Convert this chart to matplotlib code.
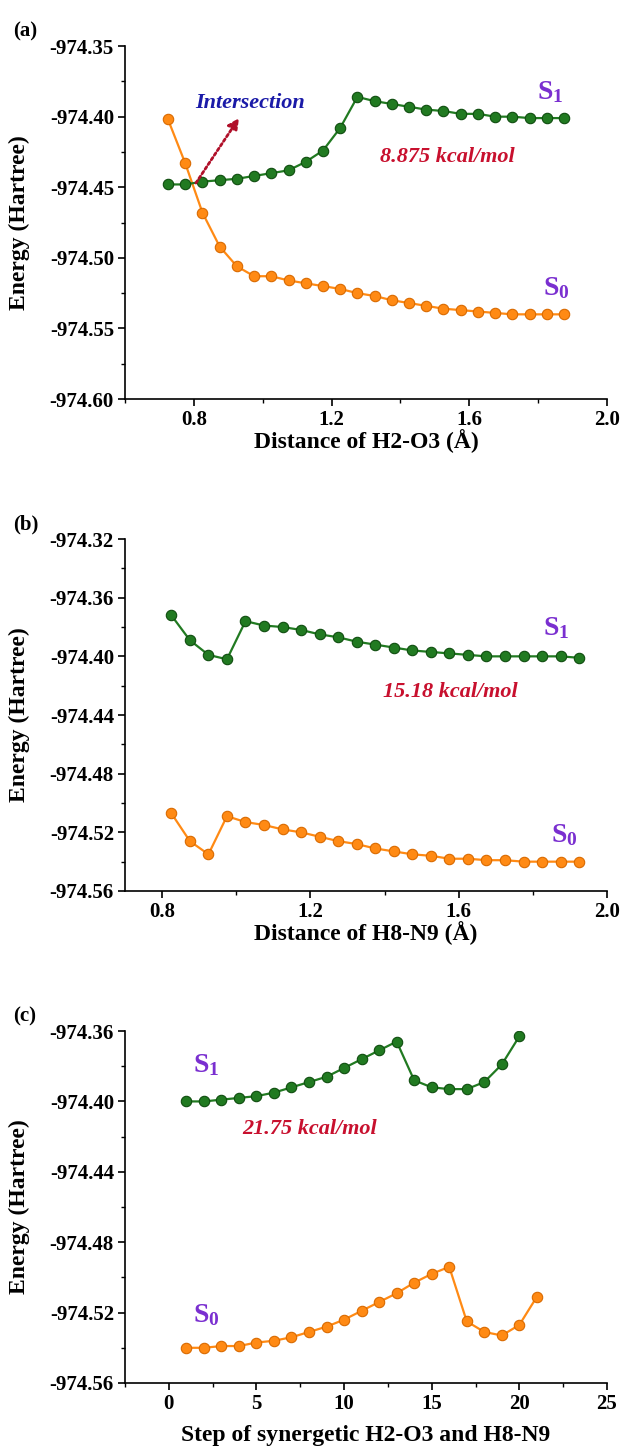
import matplotlib
matplotlib.use("Agg")
import matplotlib.pyplot as plt
from matplotlib.ticker import MultipleLocator

plt.rcParams['font.family'] = ['Liberation Serif', 'DejaVu Serif']
plt.rcParams['font.weight'] = 'bold'
plt.rcParams['axes.labelweight'] = 'bold'
plt.rcParams['mathtext.fontset'] = 'custom'
plt.rcParams['mathtext.rm'] = 'Liberation Serif:bold'
plt.rcParams['mathtext.bf'] = 'Liberation Serif:bold'

# (a) scan of H2-O3
a_dist = [0.725, 0.775, 0.825, 0.875, 0.925, 0.975, 1.025, 1.075, 1.125, 1.175, 1.225, 1.275,
          1.325, 1.375, 1.425, 1.475, 1.525, 1.575, 1.625, 1.675, 1.725, 1.775, 1.825, 1.875]
a_s0 = [-974.402, -974.433, -974.468, -974.492, -974.506, -974.513, -974.513, -974.516,
        -974.518, -974.520, -974.522, -974.525, -974.527, -974.530, -974.532, -974.534,
        -974.536, -974.537, -974.538, -974.539, -974.540, -974.540, -974.540, -974.540]
a_s1 = [-974.448, -974.448, -974.446, -974.445, -974.444, -974.442, -974.440, -974.438,
        -974.432, -974.424, -974.408, -974.386, -974.389, -974.391, -974.393, -974.395,
        -974.396, -974.398, -974.398, -974.400, -974.400, -974.401, -974.401, -974.401]

# (b) scan of H8-N9
b_dist = [0.825, 0.875, 0.925, 0.975, 1.025, 1.075, 1.125, 1.175, 1.225, 1.275, 1.325, 1.375,
          1.425, 1.475, 1.525, 1.575, 1.625, 1.675, 1.725, 1.775, 1.825, 1.875, 1.925]
b_s0 = [-974.507, -974.526, -974.535, -974.509, -974.513, -974.515, -974.518, -974.520,
        -974.523, -974.526, -974.528, -974.531, -974.533, -974.535, -974.536, -974.538,
        -974.538, -974.539, -974.539, -974.540, -974.540, -974.540, -974.540]
b_s1 = [-974.372, -974.389, -974.399, -974.402, -974.376, -974.379, -974.380, -974.382,
        -974.385, -974.387, -974.390, -974.392, -974.394, -974.396, -974.397, -974.398,
        -974.399, -974.400, -974.400, -974.400, -974.400, -974.400, -974.401]

# (c) synergetic scan
c_step_s0 = [1, 2, 3, 4, 5, 6, 7, 8, 9, 10, 11, 12, 13, 14, 15, 16, 17, 18, 19, 20, 21]
c_s0 = [-974.540, -974.540, -974.539, -974.539, -974.537, -974.536, -974.534, -974.531,
        -974.528, -974.524, -974.519, -974.514, -974.509, -974.503, -974.498, -974.494,
        -974.525, -974.531, -974.533, -974.527, -974.511]
c_step_s1 = [1, 2, 3, 4, 5, 6, 7, 8, 9, 10, 11, 12, 13, 14, 15, 16, 17, 18, 19, 20]
c_s1 = [-974.400, -974.400, -974.399, -974.398, -974.397, -974.395, -974.392, -974.389,
        -974.386, -974.381, -974.376, -974.371, -974.366, -974.388, -974.392, -974.393,
        -974.393, -974.389, -974.379, -974.363]

green = '#217a21'
green_edge = '#0f4d0f'
orange = '#ff8a14'
orange_edge = '#d96a00'
purple = '#7a2fd0'
red = '#c8102e'

fig = plt.figure(figsize=(6.2, 14.49), dpi=100)


def panel(rect, x0, y0, x1, y1, xlim, ylim, xmaj, xmin, ymaj, ymin, xlabel, xlab_y, tag):
    ax = fig.add_axes(rect)
    ax.plot(x0, y0, '-o', color=orange, lw=1.6, ms=7.5, mfc=orange, mec=orange_edge, mew=0.8)
    ax.plot(x1, y1, '-o', color=green, lw=1.6, ms=7.5, mfc=green, mec=green_edge, mew=0.8)
    ax.set_xlim(xlim)
    ax.set_ylim(ylim)
    ax.xaxis.set_major_locator(MultipleLocator(xmaj))
    ax.xaxis.set_minor_locator(MultipleLocator(xmin))
    ax.yaxis.set_major_locator(MultipleLocator(ymaj))
    ax.yaxis.set_minor_locator(MultipleLocator(ymin))
    ax.yaxis.set_major_formatter(matplotlib.ticker.FormatStrFormatter('%.2f'))
    for s in ['top', 'right']:
        ax.spines[s].set_visible(False)
    for s in ['left', 'bottom']:
        ax.spines[s].set_linewidth(1.2)
    ax.tick_params(which='major', direction='out', length=5, width=1.2, labelsize=15, pad=3)
    ax.tick_params(which='minor', direction='out', length=3, width=1.0)
    ax.set_xlabel(xlabel, fontsize=17)
    ax.xaxis.set_label_coords(0.5, xlab_y)
    ax.set_ylabel('Energy (Hartree)', fontsize=17)
    ax.yaxis.set_label_coords(-0.197, 0.5)
    ax.text(-0.232, 1.04, tag, transform=ax.transAxes, fontsize=15, ha='left', va='center')
    return ax


axa = panel([0.2016, 0.7246, 0.7774, 0.2436], a_dist, a_s0, a_dist, a_s1,
            (0.6, 2.0), (-974.60, -974.35), 0.4, 0.2, 0.05, 0.025,
            'Distance of H2-O3 (\u00c5)', -0.085, '(a)')
axa.text(1.834, -974.3826, r'$\mathbf{S_1}$', color=purple, fontsize=20, ha='center', va='center')
axa.text(1.852, -974.5214, r'$\mathbf{S_0}$', color=purple, fontsize=20, ha='center', va='center')
axa.text(1.535, -974.4286, '8.875 kcal/mol', color=red, fontsize=16, style='italic',
         ha='center', va='center')
axa.text(0.803, -974.390, 'Intersection', color='#1a1aa8', fontsize=16, style='italic',
         ha='left', va='center')
axa.annotate('', xy=(0.931, -974.401), xytext=(0.806, -974.447),
             arrowprops=dict(arrowstyle='-|>', color='#b0102a', lw=2, ls=(0, (1, 1)),
                             mutation_scale=16, shrinkA=0, shrinkB=0))

axb = panel([0.2016, 0.3851, 0.7774, 0.2429], b_dist, b_s0, b_dist, b_s1,
            (0.7, 2.0), (-974.56, -974.32), 0.4, 0.2, 0.04, 0.02,
            'Distance of H8-N9 (\u00c5)', -0.085, '(b)')
axb.text(1.862, -974.3807, r'$\mathbf{S_1}$', color=purple, fontsize=20, ha='center', va='center')
axb.text(1.884, -974.5218, r'$\mathbf{S_0}$', color=purple, fontsize=20, ha='center', va='center')
axb.text(1.577, -974.4243, '15.18 kcal/mol', color=red, fontsize=16, style='italic',
         ha='center', va='center')

axc = panel([0.2016, 0.04555, 0.7774, 0.2429], c_step_s0, c_s0, c_step_s1, c_s1,
            (-2.5, 25), (-974.56, -974.36), 5, 2.5, 0.04, 0.02,
            'Step of synergetic H2-O3 and H8-N9', -0.12, '(c)')
axc.text(2.12, -974.3793, r'$\mathbf{S_1}$', color=purple, fontsize=20, ha='center', va='center')
axc.text(2.12, -974.5214, r'$\mathbf{S_0}$', color=purple, fontsize=20, ha='center', va='center')
axc.text(8.055, -974.4157, '21.75 kcal/mol', color=red, fontsize=16, style='italic',
         ha='center', va='center')

fig.savefig('out.png', dpi=100)
